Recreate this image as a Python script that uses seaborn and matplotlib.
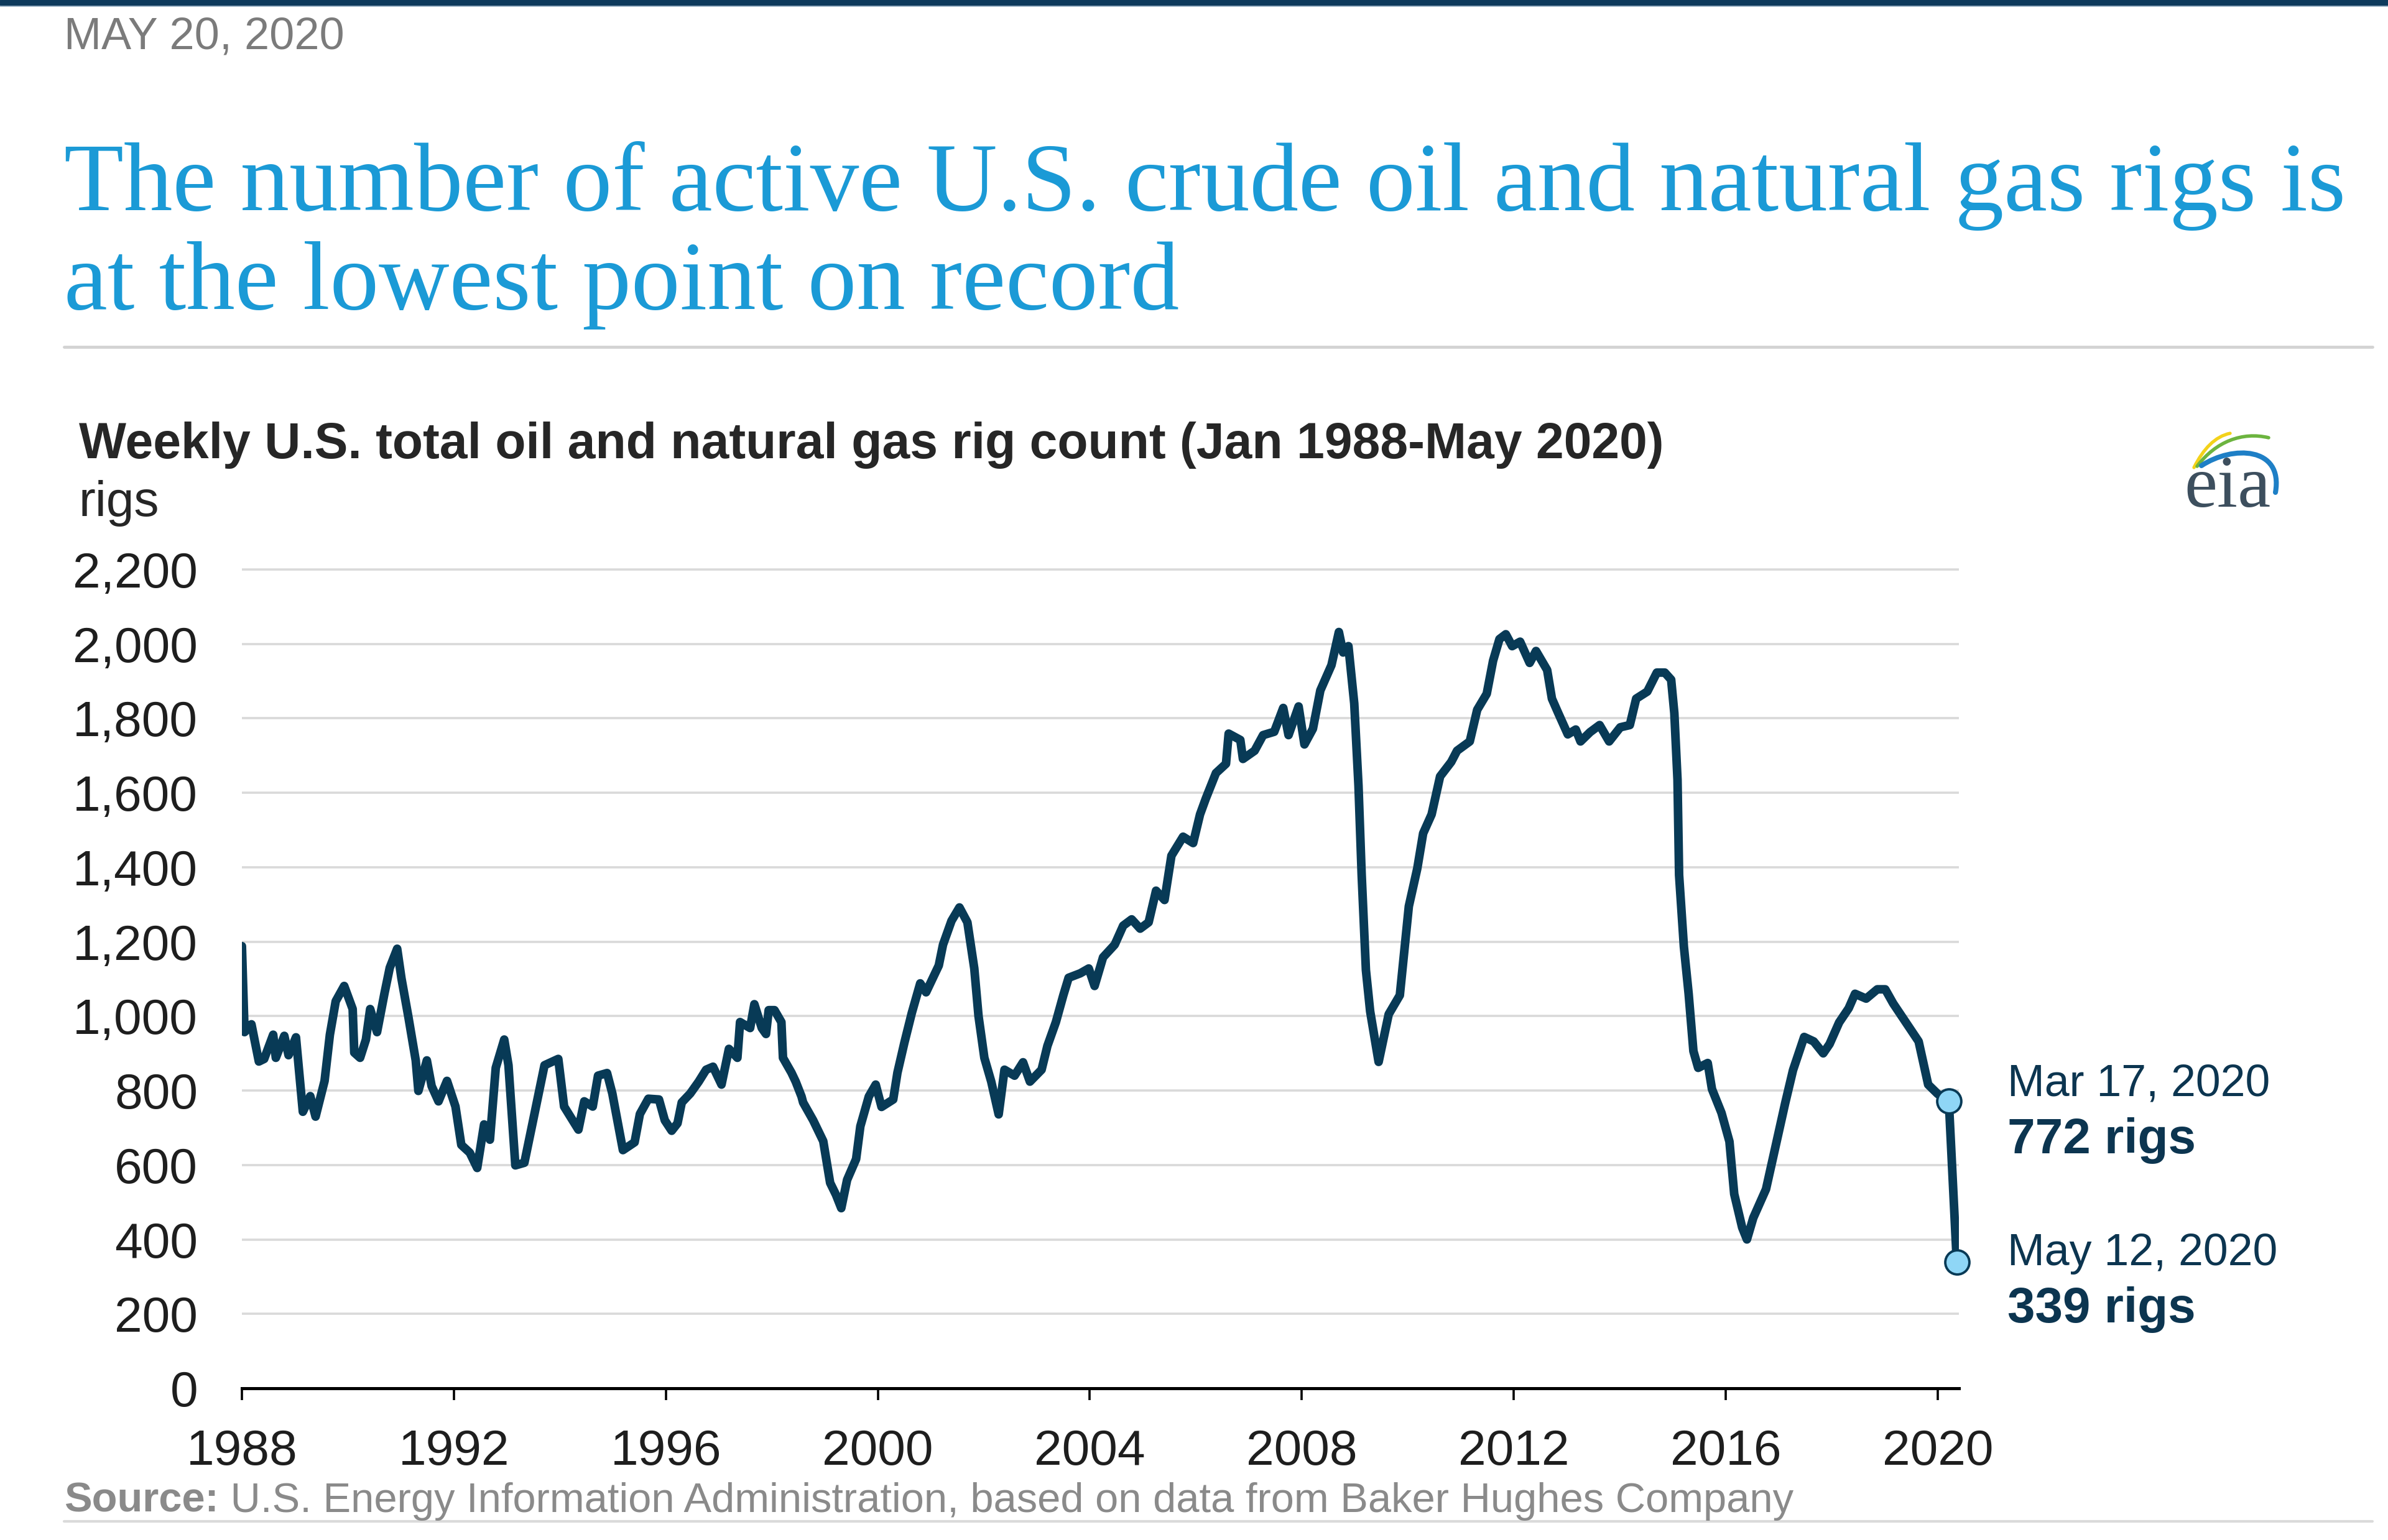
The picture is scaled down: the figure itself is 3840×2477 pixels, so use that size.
import matplotlib
matplotlib.use("Agg")
import matplotlib.pyplot as plt
import seaborn as sns
import pandas as pd
from matplotlib import font_manager
from matplotlib.lines import Line2D
from matplotlib.patches import Rectangle, PathPatch
from matplotlib.path import Path
from matplotlib.ticker import FuncFormatter

# ---------------- data ----------------
years = [
    1988.00, 1988.05, 1988.18, 1988.32, 1988.42, 1988.59, 1988.64, 1988.80, 1988.88,
    1989.02, 1989.15, 1989.29, 1989.39, 1989.56, 1989.66, 1989.77, 1989.93,
    1990.09, 1990.12, 1990.23, 1990.34, 1990.42, 1990.55, 1990.69, 1990.79, 1990.93,
    1991.01, 1991.14, 1991.28, 1991.33, 1991.49, 1991.58, 1991.71, 1991.87,
    1992.03, 1992.14, 1992.30, 1992.44, 1992.57, 1992.68, 1992.79, 1992.95,
    1993.03, 1993.16, 1993.33, 1993.49, 1993.71, 1993.97,
    1994.08, 1994.35, 1994.46, 1994.62, 1994.72, 1994.89, 1994.99,
    1995.19, 1995.41, 1995.51, 1995.67, 1995.87, 1995.98,
    1996.11, 1996.22, 1996.30, 1996.46, 1996.62, 1996.76, 1996.89,
    1997.05, 1997.19, 1997.35, 1997.40, 1997.59, 1997.67, 1997.81, 1997.89, 1997.94,
    1998.05, 1998.18, 1998.21, 1998.37, 1998.45, 1998.56, 1998.59, 1998.78, 1998.97,
    1999.10, 1999.21, 1999.31, 1999.42, 1999.59, 1999.67, 1999.83, 1999.96,
    2000.07, 2000.29, 2000.37, 2000.50, 2000.64, 2000.80, 2000.91,
    2001.15, 2001.23, 2001.39, 2001.54, 2001.69, 2001.82, 2001.90,
    2002.01, 2002.14, 2002.28, 2002.39, 2002.58, 2002.74, 2002.87,
    2003.09, 2003.20, 2003.36, 2003.50, 2003.60, 2003.82, 2003.98,
    2004.09, 2004.25, 2004.47, 2004.63, 2004.79, 2004.95,
    2005.11, 2005.25, 2005.41, 2005.54, 2005.76, 2005.95,
    2006.08, 2006.19, 2006.38, 2006.57, 2006.62, 2006.84, 2006.89,
    2007.11, 2007.27, 2007.48, 2007.65, 2007.75, 2007.94,
    2008.05, 2008.21, 2008.35, 2008.56, 2008.70, 2008.78, 2008.88, 2008.99,
    2009.07, 2009.13, 2009.21, 2009.29, 2009.45, 2009.64, 2009.85,
    2010.02, 2010.18, 2010.29, 2010.45, 2010.61, 2010.82, 2010.93,
    2011.17, 2011.31, 2011.49, 2011.61, 2011.73, 2011.85, 2011.97,
    2012.12, 2012.30, 2012.42, 2012.63, 2012.72, 2012.84,
    2013.02, 2013.17, 2013.26, 2013.44, 2013.62, 2013.80,
    2014.01, 2014.19, 2014.31, 2014.52, 2014.70, 2014.85, 2014.97,
    2015.03, 2015.09, 2015.12, 2015.21, 2015.30, 2015.39, 2015.48, 2015.66, 2015.74, 2015.92,
    2016.07, 2016.16, 2016.31, 2016.40, 2016.52, 2016.76, 2016.94,
    2017.12, 2017.27, 2017.48, 2017.66, 2017.84, 2017.96,
    2018.14, 2018.32, 2018.44, 2018.65, 2018.86,
    2019.01, 2019.16, 2019.40, 2019.64, 2019.82,
    2020.00, 2020.21, 2020.36,
]
rigs = [
    1188, 957, 978, 878, 885, 950, 888, 947, 895,
    943, 743, 785, 730, 826, 950, 1040, 1081,
    1019, 902, 888, 937, 1019, 957, 1061, 1130, 1181,
    1102, 999, 881, 799, 881, 812, 771, 826,
    757, 654, 633, 592, 709, 668, 861, 937,
    868, 599, 606, 716, 868, 885,
    757, 695, 771, 757, 840, 847, 792,
    640, 661, 737, 778, 776, 720,
    692, 712, 768, 792, 824, 856, 864,
    816, 912, 888, 984, 968, 1032, 968, 952, 1016,
    1016, 984, 888, 848, 824, 784, 768, 720, 664,
    552, 520, 484, 560, 616, 704, 784, 816,
    756, 776, 848, 928, 1008, 1088, 1064,
    1136, 1192, 1256, 1292, 1252, 1128, 1000,
    888, 824, 736, 856, 840, 876, 824,
    856, 920, 984, 1056, 1103, 1115, 1128,
    1081, 1158, 1192, 1243, 1260, 1235,
    1252, 1337, 1312, 1431, 1482, 1465,
    1542, 1585, 1653, 1678, 1759, 1742, 1691,
    1713, 1755, 1764, 1828, 1755, 1832,
    1730, 1772, 1875, 1943, 2032, 1977, 1994, 1840,
    1619, 1380, 1124, 1013, 877, 1005, 1056,
    1295, 1397, 1491, 1542, 1644, 1683, 1713,
    1738, 1823, 1866, 1955, 2013, 2026, 1994,
    2006, 1949, 1981, 1930, 1853, 1814,
    1757, 1770, 1738, 1763, 1782, 1738,
    1776, 1782, 1853, 1872, 1923, 1923, 1904,
    1814, 1635, 1379, 1187, 1060, 906, 861, 874, 804, 740,
    663, 522, 432, 400, 458, 535, 650,
    765, 855, 944, 932, 900, 925,
    983, 1021, 1060, 1047, 1072,
    1072, 1034, 983, 932, 816,
    791, 772, 339,
]
highlight_years = [2020.21, 2020.36]
highlight_rigs = [772, 339]
highlight_dates = ["Mar 17, 2020", "May 12, 2020"]
x_ticks = [1988, 1992, 1996, 2000, 2004, 2008, 2012, 2016, 2020]
y_ticks = [0, 200, 400, 600, 800, 1000, 1200, 1400, 1600, 1800, 2000, 2200]

date_text = "MAY 20, 2020"
title_lines = ["The number of active U.S. crude oil and natural gas rigs is",
               "at the lowest point on record"]
subtitle = "Weekly U.S. total oil and natural gas rig count (Jan 1988-May 2020)"
unit_label = "rigs"
source_bold = "Source:"
source_text = " U.S. Energy Information Administration, based on data from Baker Hughes Company"

# ---------------- style ----------------
sns.set_theme(style="white")
SANS = "Liberation Sans"
SERIF = "Liberation Serif"
plt.rcParams["font.family"] = [SANS, "DejaVu Sans"]

LINE = "#083a56"
TITLE_BLUE = "#1b9ad6"
GRID = "#d9d9d9"
W, H = 3840, 2477

fig = plt.figure(figsize=(W / 100, H / 100), dpi=100)
fig.patch.set_facecolor("white")
renderer = fig.canvas.get_renderer()


def fx(px):
    return px / W


def fy(px):
    return 1 - px / H


def fit_size(s, target_px, **kw):
    t = fig.text(0, 0, s, fontsize=100, **kw)
    w = t.get_window_extent(renderer).width
    t.remove()
    return 100 * target_px / w


# ---------------- main axes ----------------
ax = fig.add_axes([fx(389), fy(2233), fx(3150) - fx(389), fy(910) - fy(2233)])
df = pd.DataFrame({"year": years, "rigs": rigs})
sns.lineplot(data=df, x="year", y="rigs", ax=ax, color=LINE, linewidth=10,
             solid_joinstyle="round", solid_capstyle="round", zorder=3)
hl = pd.DataFrame({"year": highlight_years, "rigs": highlight_rigs})
sns.scatterplot(data=hl, x="year", y="rigs", ax=ax, s=780, color="#8fd6f6",
                edgecolor=LINE, linewidth=2.8, zorder=5, clip_on=False)

ax.set_xlim(1988, 2020.4)
ax.set_ylim(0, 2210)
ax.set_xticks(x_ticks)
ax.set_yticks(y_ticks)
ax.set_xlabel("")
ax.set_ylabel("")
ax.yaxis.set_major_formatter(FuncFormatter(lambda v, p: f"{int(v):,}"))
ax.grid(axis="y", color=GRID, linewidth=2.6)
ax.grid(axis="x", visible=False)
ax.set_axisbelow(True)
for s in ["left", "right", "top"]:
    ax.spines[s].set_visible(False)
ax.spines["bottom"].set_color("black")
ax.spines["bottom"].set_linewidth(3.6)
ax.spines["bottom"].set_zorder(4)

tick_fs = fit_size("2,200", 201)
ax.tick_params(axis="y", length=0, pad=51, labelsize=tick_fs, labelcolor="#1e1e1e")
ax.tick_params(axis="x", direction="out", length=14, width=2.6, color="black",
               pad=33, labelsize=tick_fs, labelcolor="#1e1e1e", bottom=True)

# ---------------- header ----------------
fig.add_artist(Rectangle((0, fy(8)), 1, fy(0) - fy(8), transform=fig.transFigure,
                         color="#0e3a5c", zorder=10))
fig.add_artist(Line2D([0, 1], [fy(9.5), fy(9.5)], color="#8fa9bf", lw=1.2))

fig.text(fx(103), fy(78), date_text, fontsize=fit_size(date_text, 450),
         color="#7b7b7b", va="baseline")

title_fs = fit_size(title_lines[0], 3669, family=[SERIF])
fig.text(fx(103), fy(338), title_lines[0], fontsize=title_fs, family=[SERIF],
         color=TITLE_BLUE, va="baseline")
fig.text(fx(103), fy(497), title_lines[1], fontsize=title_fs, family=[SERIF],
         color=TITLE_BLUE, va="baseline")

fig.add_artist(Line2D([fx(103), fx(3815)], [fy(558), fy(558)], color="#d3d3d3", lw=3.5))

fig.text(fx(127), fy(737), subtitle, fontsize=fit_size(subtitle, 2550, weight="bold"),
         weight="bold", color="#262626", va="baseline")
fig.text(fx(127), fy(830), unit_label, fontsize=tick_fs, color="#262626", va="baseline")

# ---------------- annotations ----------------
ann_fs = fit_size(highlight_dates[0], 423)
val_fs = fit_size(f"{highlight_rigs[0]} rigs", 303, weight="bold")
for d, v, by in zip(highlight_dates, highlight_rigs, [1763, 2035]):
    fig.text(fx(3228), fy(by), d, fontsize=ann_fs, color="#0c3550", va="baseline")
    fig.text(fx(3228), fy(by + 92), f"{v} rigs", fontsize=val_fs, weight="bold",
             color="#0c3550", va="baseline")

# ---------------- source ----------------
src_fs = fit_size(source_bold + source_text, 2762)
t1 = fig.text(fx(103), fy(2432), source_bold, fontsize=src_fs, weight="bold",
              color="#8a8a8a", va="baseline")
w1 = t1.get_window_extent(renderer).width
fig.text(fx(103 + w1), fy(2432), source_text, fontsize=src_fs, color="#8a8a8a",
         va="baseline")
fig.add_artist(Line2D([fx(103), fx(3815)], [fy(2447), fy(2447)], color="#dadada", lw=3))

# ---------------- eia logo ----------------
lax = fig.add_axes([fx(3480), fy(830), fx(220), 150 / H])
lax.set_xlim(3480, 3700)
lax.set_ylim(830, 680)
lax.axis("off")


def curve(p, color, lw):
    path = Path(p, [Path.MOVETO, Path.CURVE4, Path.CURVE4, Path.CURVE4])
    lax.add_patch(PathPatch(path, fill=False, edgecolor=color, lw=lw, capstyle="round"))


curve([(3528, 752), (3543, 722), (3562, 702), (3586, 697)], "#f3d21a", 3.8)
curve([(3533, 750), (3563, 710), (3606, 694), (3648, 704)], "#6cb43f", 4.0)
curve([(3540, 749), (3590, 716), (3672, 718), (3659, 792)], "#1e7fc6", 5.8)
lax.text(3512, 815, "eia", family=[SERIF], fontsize=86, color="#3d4f5e",
         va="baseline", ha="left")

fig.savefig("out.png", dpi=100, facecolor="white")
